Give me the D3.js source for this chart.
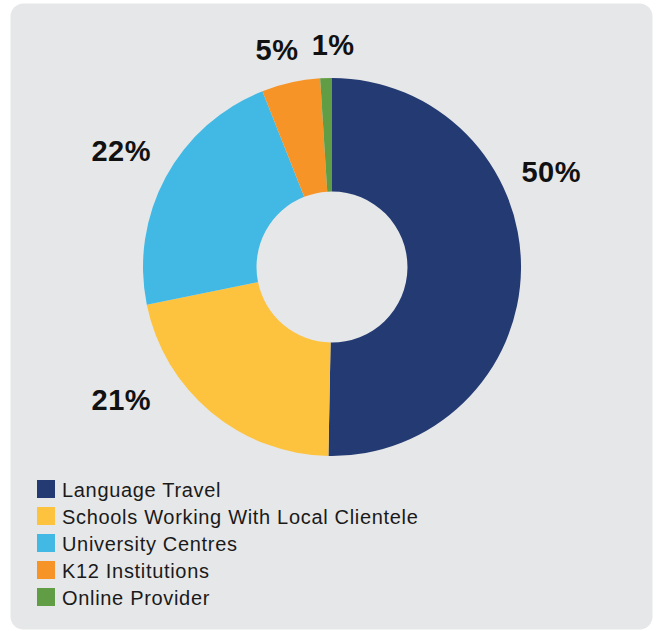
<!DOCTYPE html>
<html>
<head>
<meta charset="utf-8">
<script src="https://cdn.jsdelivr.net/npm/d3@7"></script>
<style>
  html, body { margin: 0; padding: 0; background: #ffffff; }
  svg { display: block; }
  text { font-family: "Liberation Sans", Arial, Helvetica, sans-serif; }
</style>
</head>
<body>
<svg id="chart" width="656" height="631"></svg>
<script>
const categories = ["Language Travel", "Schools Working With Local Clientele", "University Centres", "K12 Institutions", "Online Provider"];
const values = [50.3, 21.5, 22.2, 5.0, 1.0];
const valueLabels = ["50%", "21%", "22%", "5%", "1%"];
const colors = ["#233a73", "#fdc23e", "#42b9e4", "#f79428", "#619d45"];

const svg = d3.select("#chart");

svg.append("rect")
  .attr("x", 10.5).attr("y", 3.5)
  .attr("width", 642).attr("height", 626)
  .attr("rx", 13).attr("ry", 13)
  .attr("fill", "#e6e7e8");

const cx = 332, cy = 267, rOuter = 189, rInner = 75.5;
const g = svg.append("g").attr("transform", `translate(${cx},${cy})`);

const pie = d3.pie().sort(null).value(d => d);
const arcs = pie(values);
const arc = d3.arc().innerRadius(rInner).outerRadius(rOuter);

g.selectAll("path.slice")
  .data(arcs)
  .join("path")
  .attr("class", "slice")
  .attr("d", arc)
  .attr("fill", (d, i) => colors[i]);

// manual label placement (angle in degrees clockwise from 12 o'clock, distance from centre)
const labelLayout = [
  { a: 66.5, r: 239 },
  { a: 237.8, r: 249 },
  { a: 299, r: 241 },
  { a: 345.8, r: 224 },
  { a: 0.3, r: 222 }
];
g.selectAll("text.val")
  .data(arcs)
  .join("text")
  .attr("class", "val")
  .attr("x", (d, i) => labelLayout[i].r * Math.sin(labelLayout[i].a * Math.PI / 180))
  .attr("y", (d, i) => -labelLayout[i].r * Math.cos(labelLayout[i].a * Math.PI / 180))
  .attr("dy", "0.36em")
  .attr("text-anchor", "middle")
  .attr("font-size", 29)
  .attr("font-weight", "bold")
  .attr("letter-spacing", 0.5)
  .attr("fill", "#111")
  .text((d, i) => valueLabels[i]);

// legend
const legendY = d3.scaleBand().domain(categories).range([480, 615]).paddingInner(0);
const leg = svg.append("g");
const rows = leg.selectAll("g.row").data(categories).join("g").attr("class", "row")
  .attr("transform", d => `translate(37,${legendY(d)})`);
rows.append("rect").attr("width", 18).attr("height", 18).attr("fill", (d, i) => colors[i]);
rows.append("text")
  .attr("x", 25).attr("y", 16.5)
  .attr("font-size", 20)
  .attr("letter-spacing", 0.68)
  .attr("fill", "#1a1a1a")
  .text(d => d);
</script>
</body>
</html>
